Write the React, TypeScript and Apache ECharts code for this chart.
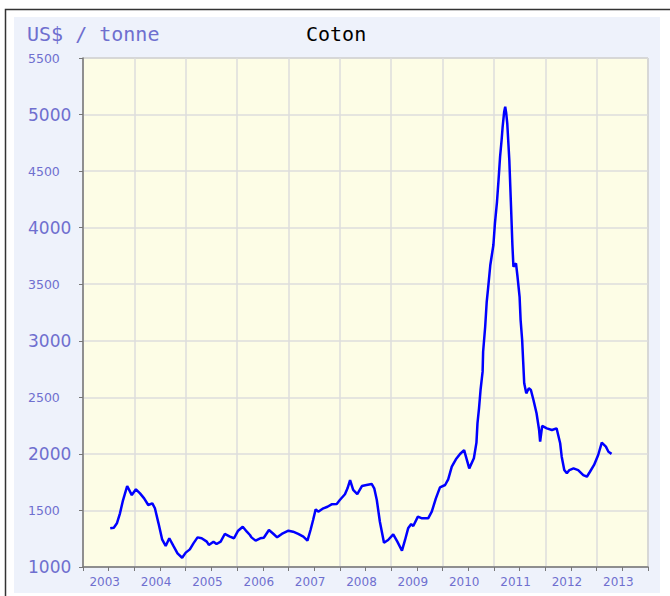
import React, { useEffect, useRef } from "react";
import * as echarts from "echarts";

// Decimal year of each observation
const years: number[] = [
  2003.53, 2003.60, 2003.66, 2003.72, 2003.78, 2003.86, 2003.95, 2004.03, 2004.11, 2004.19,
  2004.27, 2004.35, 2004.40, 2004.47, 2004.54, 2004.61, 2004.68, 2004.76, 2004.84, 2004.93,
  2005.00, 2005.08, 2005.15, 2005.23, 2005.31, 2005.41, 2005.45, 2005.54, 2005.60, 2005.68,
  2005.76, 2005.86, 2005.94, 2006.02, 2006.11, 2006.19, 2006.25, 2006.28, 2006.36, 2006.45,
  2006.52, 2006.62, 2006.71, 2006.78, 2006.87, 2007.00, 2007.09, 2007.19, 2007.29, 2007.37,
  2007.43, 2007.48, 2007.53, 2007.58, 2007.68, 2007.76, 2007.84, 2007.94, 2008.00, 2008.10,
  2008.15, 2008.20, 2008.26, 2008.34, 2008.43, 2008.52, 2008.62, 2008.67, 2008.72, 2008.78,
  2008.86, 2008.94, 2009.04, 2009.12, 2009.21, 2009.27, 2009.33, 2009.39, 2009.43, 2009.52,
  2009.60, 2009.72, 2009.79, 2009.87, 2009.95, 2010.05, 2010.11, 2010.18, 2010.26, 2010.34,
  2010.42, 2010.52, 2010.61, 2010.66, 2010.68, 2010.71, 2010.74, 2010.78, 2010.79, 2010.83,
  2010.86, 2010.89, 2010.93, 2010.96, 2010.99, 2011.02, 2011.06, 2011.09, 2011.12, 2011.15,
  2011.17, 2011.20, 2011.22, 2011.24, 2011.26, 2011.30, 2011.33, 2011.36, 2011.38, 2011.43,
  2011.46, 2011.50, 2011.52, 2011.55, 2011.57, 2011.59, 2011.63, 2011.68, 2011.72, 2011.77,
  2011.83, 2011.88, 2011.90, 2011.94, 2012.03, 2012.13, 2012.22, 2012.29, 2012.32, 2012.37,
  2012.42, 2012.47, 2012.55, 2012.64, 2012.74, 2012.81, 2012.87, 2012.95, 2013.03, 2013.10,
  2013.18, 2013.23, 2013.29,
];

// Cotton price, US$ / tonne
const prices: number[] = [
  1342, 1347, 1386, 1475, 1592, 1716, 1636, 1687, 1651, 1607,
  1548, 1563, 1519, 1386, 1245, 1186, 1254, 1186, 1121, 1082,
  1127, 1156, 1209, 1262, 1254, 1224, 1195, 1224, 1203, 1224,
  1292, 1268, 1254, 1321, 1356, 1312, 1283, 1262, 1233, 1254,
  1259, 1327, 1292, 1262, 1292, 1321, 1312, 1292, 1268, 1233,
  1327, 1415, 1510, 1489, 1519, 1533, 1554, 1557, 1592, 1643,
  1696, 1769, 1681, 1645, 1716, 1725, 1734, 1696, 1592, 1400,
  1215, 1239, 1289, 1224, 1144, 1239, 1342, 1380, 1362, 1445,
  1430, 1430, 1489, 1607, 1704, 1725, 1775, 1887, 1952, 1999,
  2034, 1872, 1961, 2100, 2270, 2403, 2565, 2727, 2903, 3124,
  3345, 3478, 3670, 3758, 3847, 4038, 4229, 4421, 4627, 4775,
  4892, 5025, 5069, 5011, 4922, 4598, 4229, 3847, 3655, 3685,
  3566, 3389, 3183, 3007, 2815, 2624, 2535, 2580, 2565, 2476,
  2359, 2211, 2108, 2247, 2226, 2211, 2226, 2094, 1975, 1857,
  1828, 1857, 1872, 1857, 1813, 1798, 1842, 1902, 1990, 2099,
  2064, 2019, 2000,
];

const yearLabels: number[] = [2003, 2004, 2005, 2006, 2007, 2008, 2009, 2010, 2011, 2012, 2013];

const TITLE = "Coton";
const UNIT = "US$ / tonne";

export default function App() {
  const ref = useRef<HTMLDivElement>(null);

  useEffect(() => {
    if (!ref.current) return;
    const chart = echarts.init(ref.current, null, { renderer: "svg" });
    const labelColor = "#6f6fcf";
    const data = years.map((y, i) => [y, prices[i]]);
    const firstYear = yearLabels[0];
    const lastYear = yearLabels[yearLabels.length - 1] + 1;

    chart.setOption({
      animation: false,
      backgroundColor: "#ffffff",
      graphic: [
        {
          type: "rect",
          z: -10,
          shape: { x: 5.5, y: 9.5, width: 700, height: 600 },
          style: { fill: "#ffffff", stroke: "#333333", lineWidth: 1.5 },
          silent: true,
        },
        {
          type: "rect",
          z: -9,
          shape: { x: 14, y: 17, width: 646, height: 576 },
          style: { fill: "#eef2fb" },
          silent: true,
        },
        {
          type: "text",
          left: 27,
          top: 24,
          style: {
            text: UNIT,
            fill: labelColor,
            font: '20px "DejaVu Sans Mono", monospace',
          },
        },
        {
          type: "text",
          left: 306,
          top: 24,
          style: {
            text: TITLE,
            fill: "#000000",
            font: '20px "DejaVu Sans Mono", monospace',
          },
        },
      ],
      grid: {
        left: 83,
        top: 58,
        right: 22,
        bottom: 29,
        show: true,
        backgroundColor: "#fdfde6",
        borderColor: "#999999",
        borderWidth: 1,
      },
      xAxis: [
        {
          type: "value",
          min: firstYear,
          max: lastYear,
          interval: 1,
          axisLine: { show: true, lineStyle: { color: "#777777", width: 1.5 } },
          axisTick: { show: false },
          axisLabel: { show: false },
          splitLine: { show: true, lineStyle: { color: "#dddddd", width: 1.5 } },
        },
        {
          type: "value",
          position: "bottom",
          min: firstYear,
          max: lastYear,
          interval: 0.5,
          axisLine: { show: false },
          axisTick: { show: true, length: 4, lineStyle: { color: "#777777" } },
          splitLine: { show: false },
          axisLabel: {
            show: true,
            margin: 9,
            padding: [0, 8, 0, 0],
            color: labelColor,
            fontFamily: '"DejaVu Sans", Verdana, sans-serif',
            fontSize: 12,
            showMinLabel: true,
            showMaxLabel: true,
            formatter: (v: number) => {
              const f = Math.round((v - Math.floor(v)) * 10);
              return f === 5 ? String(Math.floor(v)) : "";
            },
          },
        },
      ],
      yAxis: {
        type: "value",
        min: 1000,
        max: 5500,
        interval: 500,
        axisLine: { show: true, lineStyle: { color: "#777777", width: 1.5 } },
        axisTick: { show: true, length: 4, lineStyle: { color: "#777777" } },
        splitLine: { show: true, lineStyle: { color: "#dddddd", width: 1.5 } },
        axisLabel: {
          show: true,
          align: "left",
          margin: 55,
          color: labelColor,
          fontFamily: '"DejaVu Sans", Verdana, sans-serif',
          formatter: (v: number) => (v % 1000 === 0 ? `{b|${v}}` : `{s|${v}}`),
          rich: {
            b: { fontSize: 17, color: labelColor, fontFamily: '"DejaVu Sans", Verdana, sans-serif' },
            s: { fontSize: 12.5, color: labelColor, fontFamily: '"DejaVu Sans", Verdana, sans-serif' },
          },
        },
      },
      series: [
        {
          type: "line",
          xAxisIndex: 0,
          data,
          showSymbol: false,
          symbol: "none",
          lineStyle: { color: "#0000ff", width: 2.5 },
        },
      ],
    });

    return () => chart.dispose();
  }, []);

  return (
    <div
      ref={ref}
      style={{ position: "fixed", left: 0, top: 0, width: 670, height: 596 }}
    />
  );
}
